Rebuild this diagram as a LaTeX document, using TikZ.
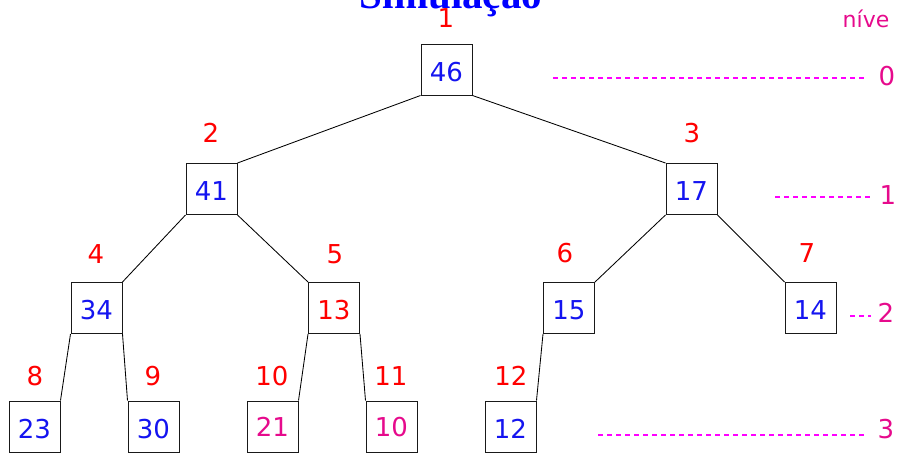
\documentclass[tikz,border=0pt]{standalone}
\usepackage{fontspec}
\setmainfont{DejaVu Sans}
\newfontfamily\titlefont{Liberation Serif}
\definecolor{valblue}{RGB}{20,20,240}
\definecolor{idxred}{RGB}{255,0,0}
\definecolor{lvlpink}{RGB}{230,10,140}
\definecolor{dashmag}{RGB}{255,0,255}
\tikzset{
  heapbox/.style={draw=black!90, line width=1pt, minimum size=51pt, inner sep=0pt,
    font=\fontsize{26}{26}\selectfont, text=valblue, text height=23pt, text depth=0pt},
  heapboxc/.style={heapbox, text height=19pt},
  idx/.style={font=\fontsize{26}{26}\selectfont, text=idxred, inner sep=0pt},
  lvl/.style={font=\fontsize{26}{26}\selectfont, text=lvlpink, inner sep=0pt},
  edge/.style={draw=black, line width=0.85pt},
  lvldash/.style={draw=dashmag, line width=1.2pt, dash pattern=on 4.5pt off 4.5pt}
}
\begin{document}
\begin{tikzpicture}[x=1pt,y=-1pt]
\useasboundingbox (0,0) rectangle (898,453);
% title
\node[anchor=base, inner sep=0pt, text=blue, font=\fontsize{41}{41}\selectfont\titlefont\bfseries] (title) at (451,8) {Simulação};
% boxes
\node[heapbox] (b1) at (446.5,69.5) {46};
\node[heapbox] (b2) at (211.5,189) {41};
\node[heapbox] (b3) at (691.5,189) {17};
\node[heapbox] (b4) at (96.5,308) {34};
\node[heapbox, text=idxred] (b5) at (334,308) {13};
\node[heapbox] (b6) at (569,308) {15};
\node[heapbox] (b7) at (810.5,308) {14};
\node[heapbox] (b8) at (34.5,426.5) {23};
\node[heapbox] (b9) at (153.5,426.5) {30};
\node[heapboxc, text=lvlpink] (b10) at (272.5,426.5) {21};
\node[heapboxc, text=lvlpink] (b11) at (391.5,426.5) {10};
\node[heapbox] (b12) at (510.5,426.5) {12};
% edges
\draw[edge] (b1.south west) -- (b2.north east);
\draw[edge] (b1.south east) -- (b3.north west);
\draw[edge] (b2.south west) -- (b4.north east);
\draw[edge] (b2.south east) -- (b5.north west);
\draw[edge] (b3.south west) -- (b6.north east);
\draw[edge] (b3.south east) -- (b7.north west);
\draw[edge] (b4.south west) -- (b8.north east);
\draw[edge] (b4.south east) -- (b9.north west);
\draw[edge] (b5.south west) -- (b10.north east);
\draw[edge] (b5.south east) -- (b11.north west);
\draw[edge] (b6.south west) -- (b12.north east);
% index labels
\node[idx] (i1) at (446,18) {1};
\node[idx] (i2) at (211,133) {2};
\node[idx] (i3) at (692,133) {3};
\node[idx] (i4) at (96,254) {4};
\node[idx] (i5) at (335,254) {5};
\node[idx] (i6) at (565,253) {6};
\node[idx] (i7) at (807,253) {7};
\node[idx] (i8) at (35,376) {8};
\node[idx] (i9) at (153,376) {9};
\node[idx] (i10) at (272,376) {10};
\node[idx] (i11) at (391,376) {11};
\node[idx] (i12) at (511,376) {12};
% levels
\node[anchor=base, inner sep=0pt, text=lvlpink, font=\fontsize{22}{22}\selectfont] (lvltitle) at (866,27) {níve};
\node[lvl] (l0) at (887,76) {0};
\node[lvl] (l1) at (888,195) {1};
\node[lvl] (l2) at (886,313) {2};
\node[lvl] (l3) at (886,429) {3};
\coordinate (d0a) at (553,78);  \coordinate (d0b) at (867,78);
\coordinate (d1a) at (775,197); \coordinate (d1b) at (870,197);
\coordinate (d2a) at (850,316); \coordinate (d2b) at (871,316);
\coordinate (d3a) at (598,435); \coordinate (d3b) at (866,435);
\draw[lvldash] (d0a) -- (d0b);
\draw[lvldash] (d1a) -- (d1b);
\draw[lvldash] (d2a) -- (d2b);
\draw[lvldash] (d3a) -- (d3b);
\end{tikzpicture}
\end{document}
